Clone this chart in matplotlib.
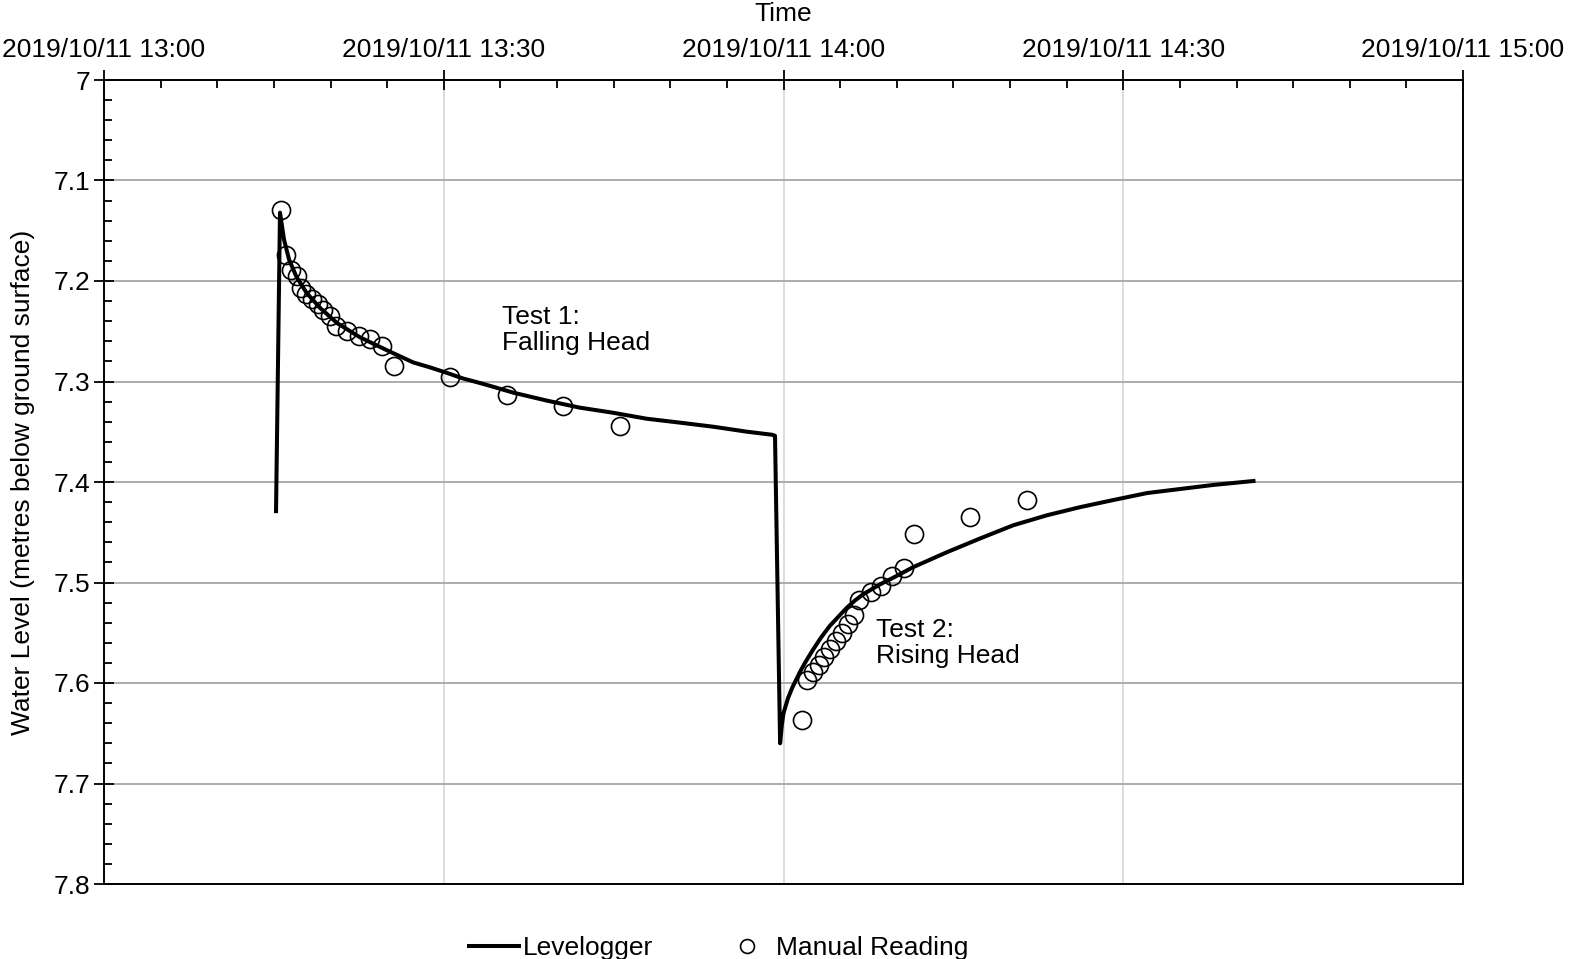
import matplotlib
matplotlib.use("Agg")
import matplotlib.pyplot as plt
import matplotlib.dates as mdates
from matplotlib.lines import Line2D
import pandas as pd

plt.rcParams['font.family'] = ['Liberation Sans', 'DejaVu Sans']

t0 = pd.Timestamp("2019-10-11 13:00")

# levelogger trace: minutes after 13:00, water level (m bgl)
logger_min = [15.19, 15.54, 15.9, 16.35, 17.0, 17.9, 19.1, 20.6, 22.6, 25.0, 27.3,
              28.8, 30.3, 31.7, 33.2, 34.6, 36.1, 39.1, 42.0, 44.9, 47.9, 50.9, 53.8,
              56.8, 59.0, 59.25,
              59.7, 59.85, 60.0, 60.4, 60.8, 61.5, 62.0, 62.6, 63.3, 64.1, 65.6, 66.3,
              67.0, 68.5, 69.9, 71.4, 74.4, 77.4, 80.3, 83.3, 86.2, 89.1, 92.1, 95.0,
              97.9, 101.5]
logger_lvl = [7.429, 7.132, 7.159, 7.179, 7.196, 7.212, 7.227, 7.242, 7.256, 7.269, 7.281,
              7.286, 7.2915, 7.297, 7.3015, 7.306, 7.311, 7.319, 7.326, 7.331, 7.337, 7.341, 7.345,
              7.350, 7.353, 7.354,
              7.660, 7.642, 7.630, 7.615, 7.604, 7.588, 7.578, 7.567, 7.555, 7.543, 7.525, 7.518,
              7.512, 7.502, 7.494, 7.485, 7.470, 7.456, 7.443, 7.433, 7.425, 7.418, 7.411, 7.407,
              7.403, 7.399]

# manual dip readings
manual_min = [15.63, 16.07, 16.51, 17.04, 17.40, 17.84, 18.37, 18.90, 19.34, 19.96,
              20.49, 21.46, 22.52, 23.49, 24.55, 25.61, 30.55, 35.59, 40.53, 45.56,
              61.6, 62.1, 62.6, 63.1, 63.6, 64.1, 64.6, 65.2, 65.7, 66.2,
              66.7, 67.7, 68.6, 69.6, 70.6, 71.5, 76.5, 81.5]
manual_lvl = [7.129, 7.174, 7.189, 7.195, 7.207, 7.213, 7.218, 7.223, 7.229, 7.235,
              7.245, 7.250, 7.255, 7.258, 7.265, 7.285, 7.296, 7.313, 7.324, 7.344,
              7.637, 7.597, 7.589, 7.582, 7.574, 7.566, 7.558, 7.550, 7.541, 7.532,
              7.517, 7.509, 7.503, 7.494, 7.486, 7.452, 7.435, 7.418]

logger_t = t0 + pd.to_timedelta(logger_min, unit="min")
manual_t = t0 + pd.to_timedelta(manual_min, unit="min")

fig = plt.figure(figsize=(15.71, 9.59), dpi=100)
ax = fig.add_axes([104 / 1571, 1 - 884 / 959, 1359 / 1571, 804 / 959])

ax.plot(logger_t, logger_lvl, color="black", lw=2.9, solid_joinstyle="round", zorder=3)
ax.plot(manual_t, manual_lvl, ls="none", marker="o", ms=13, mfc="none",
        mec="black", mew=1.2, zorder=4)

ax.set_xlim(t0, t0 + pd.Timedelta(minutes=120))
ax.set_ylim(7.8, 7.0)

ax.xaxis.tick_top()
ax.xaxis.set_label_position("top")
ax.xaxis.set_major_locator(mdates.MinuteLocator(byminute=[0, 30]))
ax.xaxis.set_minor_locator(mdates.MinuteLocator(byminute=range(0, 60, 5)))
ax.xaxis.set_major_formatter(mdates.DateFormatter("%Y/%m/%d %H:%M"))
ax.set_yticks([7.0, 7.1, 7.2, 7.3, 7.4, 7.5, 7.6, 7.7, 7.8])
ax.set_yticklabels(["7", "7.1", "7.2", "7.3", "7.4", "7.5", "7.6", "7.7", "7.8"])
ax.set_yticks([7 + i * 0.02 for i in range(41)], minor=True)

ax.tick_params(axis="both", which="major", direction="inout", length=14, width=1.3,
               labelsize=19, colors="black")
ax.tick_params(axis="both", which="minor", direction="in", length=6, width=1.3)
ax.tick_params(axis="x", which="both", top=True, bottom=False, pad=6)
ax.tick_params(axis="y", which="both", left=True, right=False, pad=3)

ax.grid(axis="y", which="major", color="#a6a6a6", lw=1.3)
ax.grid(axis="x", which="major", color="#d9d9d9", lw=1.3)
ax.set_axisbelow(True)
for s in ax.spines.values():
    s.set_color("black")
    s.set_linewidth(1.4)

ax.set_xlabel("Time", fontsize=19, labelpad=12)
ax.set_ylabel("Water Level (metres below ground surface)", fontsize=19, labelpad=13)

ax.text(t0 + pd.Timedelta(minutes=35.1), 7.249, "Test 1:\nFalling Head", fontsize=19,
        ha="left", va="center", linespacing=1.1)
ax.text(t0 + pd.Timedelta(minutes=68.2), 7.560, "Test 2:\nRising Head", fontsize=19,
        ha="left", va="center", linespacing=1.1)

handles = [Line2D([], [], color="black", lw=2.9),
           Line2D([], [], ls="none", marker="o", ms=10, mfc="none", mec="black", mew=1.2)]
fig.legend(handles, ["Levelogger", "Manual Reading"], loc="center",
           bbox_to_anchor=(0.4575, 1 - 948 / 959), ncol=2, frameon=False, fontsize=19,
           handlelength=1.9, handletextpad=0.15, columnspacing=2.6)

fig.savefig("out.png", dpi=100)
